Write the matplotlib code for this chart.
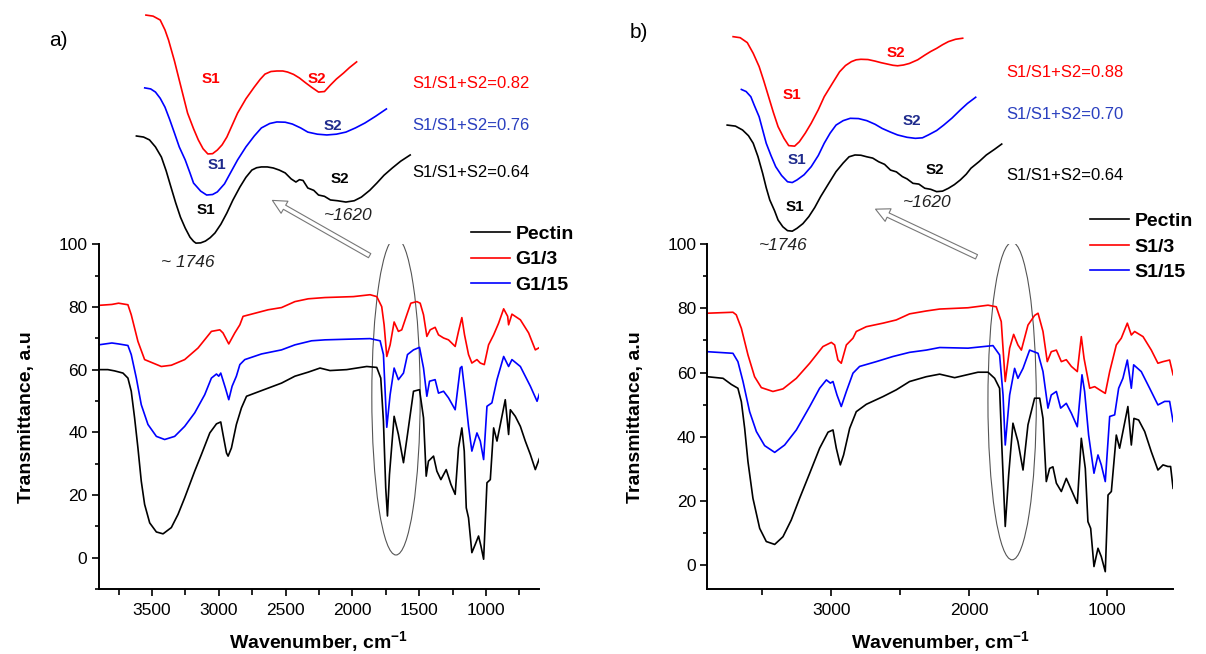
import matplotlib
matplotlib.use('Agg')
import matplotlib.pyplot as plt
from matplotlib.patches import Ellipse, FancyArrowPatch
from matplotlib.ticker import MultipleLocator

plt.rcParams['font.family'] = ['Liberation Sans', 'DejaVu Sans']
plt.rcParams['mathtext.fontset'] = 'custom'
plt.rcParams['mathtext.bf'] = 'Liberation Sans:bold'
plt.rcParams['mathtext.rm'] = 'Liberation Sans'

# ---- panel a) spectra ----
wn_a_pectin = [3900, 3830, 3780, 3717, 3680, 3655, 3630, 3605, 3580, 3555, 3517, 3467, 3417, 3355, 3305, 3255, 3180,
               3130, 3067, 3017, 2985, 2968, 2942, 2930, 2905, 2868, 2830, 2792, 2730, 2630, 2530, 2430, 2330, 2242,
               2167, 2042, 1892, 1817, 1787, 1767, 1750, 1737, 1722, 1687, 1655, 1617, 1587, 1542, 1497, 1467, 1447,
               1430, 1392, 1367, 1337, 1297, 1262, 1230, 1205, 1180, 1162, 1147, 1130, 1105, 1080, 1055, 1037, 1017,
               992, 967, 942, 917, 892, 855, 830, 817, 780, 742, 705, 667, 630, 600]
t_a_pectin = [60, 60, 59.6, 58.9, 57.3, 53.1, 44.6, 35, 24.4, 17, 11.1, 8.2, 7.6, 9.6, 13.8, 19.1, 27.6,
              32.9, 39.8, 42.7, 43.3, 39.3, 33.4, 32.4, 35, 42.5, 47.8, 51.5, 52.5, 54.1, 55.7, 57.9, 59.2, 60.5,
              59.7, 60, 61, 60.7, 57.3, 43.5, 22.3, 13.3, 26.5, 45.1, 39.3, 30.3, 39.3, 53.1, 53.6, 44.6, 26,
              30.8, 32.4, 27.6, 24.9, 28.1, 23.4, 20.2, 35, 41.4, 34, 15.9, 12.7, 1.6, 4.2, 6.9, 3.7, -0.5,
              23.9, 24.9, 41.4, 37.2, 42.5, 50.4, 39.3, 47.2, 45.1, 41.9, 37.2, 32.9, 28.1, 31.6]

wn_a_g13 = [3900, 3800, 3750, 3680, 3655, 3605, 3555, 3430, 3355, 3255, 3155, 3055, 2992, 2968, 2925, 2880, 2842,
            2818, 2755, 2630, 2530, 2430, 2330, 2205, 1992, 1867, 1817, 1780, 1762, 1742, 1717, 1687, 1655, 1630,
            1592, 1562, 1517, 1492, 1467, 1442, 1417, 1380, 1355, 1317, 1280, 1230, 1205, 1180, 1160, 1130, 1105,
            1067, 1042, 1012, 980, 942, 905, 867, 837, 830, 805, 742, 680, 630, 605]
t_a_g13 = [80.5, 80.8, 81.2, 80.7, 77.5, 69, 63.2, 61, 61.4, 63.2, 66.9, 72.2, 72.7, 71.7, 68.2, 71.7, 74.3,
           77, 77.7, 79.1, 79.8, 81.7, 82.6, 83, 83.3, 83.9, 83.3, 80.1, 74.3, 64.2, 67.9, 75.2, 72.2, 72.7,
           77.5, 81.2, 81.7, 81.2, 77.5, 70.6, 72.7, 73.5, 71.1, 70.1, 69.5, 67.4, 72.2, 76.6, 71.1, 64.8, 62.1,
           63.2, 62.1, 61.6, 67.9, 71.1, 74.8, 79.4, 77, 74.3, 77.7, 75.9, 71.7, 66.3, 66.9]

wn_a_g115 = [3900, 3800, 3750, 3680, 3655, 3617, 3580, 3530, 3467, 3405, 3330, 3255, 3180, 3105, 3055, 3017, 3000,
             2985, 2950, 2925, 2900, 2868, 2842, 2805, 2680, 2530, 2430, 2305, 2205, 2042, 1867, 1792, 1767, 1742,
             1717, 1687, 1655, 1617, 1587, 1542, 1497, 1467, 1442, 1422, 1380, 1355, 1317, 1280, 1230, 1192, 1180,
             1155, 1130, 1105, 1067, 1042, 1017, 992, 955, 917, 867, 830, 805, 742, 667, 617, 600]
t_a_g115 = [67.9, 68.5, 68.2, 67.7, 64.8, 57.3, 48.8, 42.5, 38.7, 37.7, 38.7, 41.9, 46.2, 52, 57.3, 58.6, 57.9,
            58.9, 54.1, 50.4, 54.7, 57.9, 61.6, 63.2, 65, 66.3, 67.9, 69.2, 69.5, 69.7, 69.9, 69.2, 64.8, 41.6,
            52, 60.5, 56.8, 58.9, 64.8, 66.3, 67.1, 60.5, 51.5, 56.3, 56.8, 52.5, 53.1, 51, 47.2, 60.5, 61,
            52, 41.9, 34, 39.8, 37.2, 31.3, 48.3, 49.4, 56.8, 64.2, 61, 63.2, 61, 54.7, 49.9, 52.2]

# ---- panel b) spectra ----
wn_b_pectin = [3900, 3786, 3726, 3678, 3653, 3629, 3605, 3569, 3520, 3472, 3411, 3351, 3291, 3230, 3157, 3085, 3024,
               2988, 2964, 2935, 2911, 2867, 2819, 2746, 2625, 2529, 2432, 2311, 2214, 2105, 1936, 1863, 1815, 1779,
               1762, 1738, 1713, 1682, 1646, 1609, 1573, 1525, 1488, 1464, 1440, 1416, 1392, 1367, 1331, 1295, 1258,
               1215, 1186, 1157, 1138, 1118, 1094, 1065, 1041, 1012, 992, 968, 932, 908, 884, 848, 823, 804, 770,
               726, 678, 630, 593, 557, 538, 520]
t_b_pectin = [58.7, 58.2, 56.3, 55.1, 50.9, 42.6, 32.2, 20.8, 11.4, 7.3, 6.4, 8.8, 14, 20.8, 28.6, 36.4, 41.4,
              42.1, 36.4, 31.2, 34.3, 42.6, 47.8, 50.1, 52.5, 54.6, 57.2, 58.7, 59.5, 58.4, 60.1, 60.1, 58.2, 55.1,
              36.4, 12, 28.1, 44.2, 38.5, 29.6, 43.7, 52, 52, 45.7, 26, 30.1, 30.6, 25.5, 22.9, 27, 23.4,
              19.2, 39.5, 30.1, 13.5, 11.4, -0.5, 5.2, 2.6, -2.1, 21.8, 22.9, 40.5, 36.4, 41.6, 49.4, 37.4, 45.7, 45.2,
              41.6, 35.3, 29.6, 31.2, 30.7, 30.7, 23.9]

wn_b_s13 = [3900, 3714, 3690, 3653, 3605, 3557, 3508, 3424, 3351, 3254, 3157, 3061, 3000, 2976, 2952, 2928, 2891,
            2843, 2819, 2746, 2625, 2529, 2432, 2311, 2214, 2008, 1863, 1803, 1767, 1738, 1706, 1677, 1646, 1621,
            1573, 1525, 1500, 1464, 1433, 1404, 1367, 1331, 1295, 1258, 1215, 1186, 1166, 1125, 1089, 1053, 1012,
            980, 932, 896, 852, 823, 799, 738, 678, 630, 593, 545, 520]
t_b_s13 = [78.5, 78.8, 78, 73.8, 65.5, 58.7, 55.3, 54.1, 54.9, 58.2, 62.9, 68.1, 69.4, 68.6, 63.9, 62.9, 68.6,
           70.7, 72.8, 74.3, 75.4, 76.4, 78.3, 79.2, 79.8, 80.2, 81, 80.5, 75.9, 57.2, 67.6, 71.9, 68.6, 67,
           74.8, 77.8, 78.5, 72.8, 63.4, 66.5, 67, 63.4, 64, 61.9, 60.3, 71.2, 64.4, 55.1, 55.6, 54.6, 53.5,
           60.3, 68.6, 70.7, 75.4, 71.7, 72.8, 71.2, 67, 62.9, 63.4, 63.9, 59.3]

wn_b_s115 = [3900, 3714, 3678, 3641, 3593, 3544, 3484, 3411, 3339, 3254, 3157, 3085, 3036, 3007, 2988, 2959, 2928,
             2891, 2843, 2795, 2674, 2553, 2432, 2311, 2214, 2008, 1827, 1779, 1754, 1738, 1706, 1670, 1646, 1609,
             1561, 1500, 1464, 1428, 1404, 1367, 1336, 1295, 1258, 1215, 1181, 1162, 1133, 1094, 1065, 1041, 1012,
             980, 944, 915, 884, 852, 823, 806, 751, 690, 630, 581, 545, 520]
t_b_s115 = [66.5, 66, 63.4, 57.2, 47.8, 41.6, 37.2, 35.1, 37.4, 42.1, 49.4, 55.1, 57.7, 56.7, 57.2, 53, 49.4,
            54.1, 59.8, 61.9, 63.4, 65, 66.3, 67, 67.8, 67.6, 68.4, 65.5, 53, 37.4, 53, 61.3, 58.2, 61.3,
            67, 66, 60.3, 48.9, 53, 54.1, 48.9, 50.4, 47.3, 43.1, 59.3, 54.1, 40.5, 28.6, 34.3, 31.2, 26,
            46.3, 46.8, 55.1, 58.2, 63.9, 55.1, 62.4, 60.3, 55.1, 49.9, 51, 51, 44.7]

# ---- insets (C=O region, curves offset for clarity) ----
ia_red_wn = [1788, 1782, 1776, 1772, 1769, 1764, 1760, 1753, 1748, 1744, 1740, 1736, 1732, 1728, 1724, 1720, 1711,
             1704, 1697, 1692, 1688, 1683, 1678, 1673, 1669, 1664, 1659, 1654, 1649, 1643, 1638, 1633, 1628, 1622,
             1617, 1611]
ia_red_t = [94.2, 93.8, 92.3, 88.5, 84.6, 76.5, 69.2, 56.5, 50.5, 46.2, 42.8, 40.8, 40.9, 42.3, 44.3, 47.3, 56.5,
            62, 66.5, 69.5, 71.5, 72.5, 72.7, 72.7, 72.3, 71.4, 70, 68.2, 66.5, 64.6, 64.8, 67.3, 69.6, 71.9,
            74, 76.2]
ia_blue_wn = [1789, 1784, 1780, 1776, 1772, 1768, 1764, 1760, 1755, 1751, 1748, 1742, 1737, 1732, 1728, 1722, 1717,
              1711, 1704, 1697, 1691, 1684, 1678, 1671, 1665, 1658, 1652, 1644, 1636, 1628, 1620, 1612, 1604, 1595,
              1586]
ia_blue_t = [66.2, 65.8, 64.6, 62.2, 58.8, 54, 48.8, 43.5, 38.5, 33.5, 29.6, 26.5, 25, 25.2, 26.2, 29.3, 33.5,
             38.5, 43.5, 47.7, 50.8, 52.5, 53.1, 53, 52.3, 50.8, 49.2, 48.4, 48.1, 48.4, 49.2, 50.8, 52.7, 55.3,
             58.1]
ia_black_wn = [1796, 1790, 1785, 1780, 1775, 1771, 1767, 1763, 1759, 1755, 1751, 1748, 1746, 1742, 1738, 1734, 1730,
               1725, 1720, 1715, 1709, 1704, 1699, 1695, 1691, 1686, 1681, 1676, 1671, 1666, 1662, 1659, 1656, 1652,
               1647, 1643, 1638, 1633, 1627, 1620, 1613, 1607, 1600, 1594, 1588, 1581, 1574, 1566]
ia_black_t = [47.7, 47.3, 46.2, 43.5, 39.6, 34.3, 28.1, 22, 16.5, 12.3, 8.8, 7.2, 6.5, 6.6, 7.3, 8.6, 10.4,
              13.8, 18.1, 23, 28.1, 31.8, 34.6, 35.5, 35.8, 35.8, 35.4, 34.6, 33.5, 31.2, 30, 30.9, 30.6, 27.7,
              26.8, 25, 24.5, 23.1, 22.8, 22.3, 22.8, 24.2, 26.8, 29.6, 32.6, 35.4, 38, 40.4]

ib_red_wn = [1792, 1786, 1780, 1775, 1770, 1766, 1762, 1758, 1754, 1749, 1745, 1740, 1736, 1731, 1726, 1720, 1715,
             1708, 1702, 1697, 1692, 1688, 1684, 1678, 1672, 1667, 1662, 1657, 1653, 1648, 1643, 1636, 1630, 1625,
             1620, 1615, 1610, 1604, 1598]
ib_red_t = [85.9, 85.5, 83.6, 79.5, 74.4, 68.8, 62.8, 56.8, 51.3, 46.8, 44, 43.8, 45.5, 48.8, 52.6, 57.8, 62.8,
            68, 72.4, 74.8, 76.3, 77, 77.2, 77.1, 76.5, 75.9, 75.4, 74.9, 74.7, 75, 75.6, 77, 78.8, 80.2,
            81.4, 82.8, 84, 84.9, 85.3]
ib_blue_wn = [1785, 1781, 1777, 1774, 1770, 1767, 1764, 1760, 1756, 1751, 1746, 1742, 1738, 1732, 1726, 1720, 1715,
              1710, 1705, 1699, 1693, 1686, 1679, 1672, 1666, 1659, 1653, 1645, 1638, 1632, 1627, 1620, 1614, 1607,
              1600, 1594, 1587]
ib_blue_t = [65.6, 64.8, 62.8, 59.4, 55.1, 50, 44.9, 40.2, 35.9, 32.5, 30.1, 29.8, 30.8, 32.8, 35.9, 40.2, 44.9,
             48.8, 51.9, 53.6, 54.5, 54.4, 53.6, 52.2, 50.6, 49.2, 48.1, 47.2, 46.8, 47, 48.1, 49.8, 51.9, 54.6,
             57.7, 60.2, 62.6]
ib_black_wn = [1797, 1790, 1784, 1779, 1775, 1771, 1767, 1764, 1761, 1757, 1754, 1750, 1746, 1742, 1738, 1733, 1728,
               1723, 1718, 1711, 1705, 1699, 1694, 1689, 1684, 1679, 1674, 1669, 1664, 1659, 1654, 1649, 1645, 1640,
               1635, 1630, 1625, 1620, 1615, 1610, 1605, 1600, 1595, 1591, 1584, 1578, 1571, 1565]
ib_black_t = [51.9, 51.5, 50, 47.8, 44.9, 39.8, 33.3, 27.8, 23.1, 19, 15.4, 12.8, 11.3, 11.1, 12.2, 14, 16.7,
              20.2, 24.4, 29.6, 34, 37.3, 39.7, 40.4, 40.3, 39.7, 39.2, 37.8, 36.8, 34.6, 33.9, 32.1, 31.2, 29.5,
              29.2, 27.6, 27.2, 26.3, 26.5, 27.6, 29, 30.8, 33, 35.3, 37.9, 40.4, 42.6, 44.6]

ratios_a = ['S1/S1+S2=0.82', 'S1/S1+S2=0.76', 'S1/S1+S2=0.64']
ratios_b = ['S1/S1+S2=0.88', 'S1/S1+S2=0.70', 'S1/S1+S2=0.64']
labels_a = ['Pectin', 'G1/3', 'G1/15']
labels_b = ['Pectin', 'S1/3', 'S1/15']

RED = '#ff0000'
BLUE = '#0000ff'
NAVY = '#1e2a8c'

fig = plt.figure(figsize=(12.06, 6.54), dpi=100)

ax_a = fig.add_axes([0.0817, 0.0994, 0.3655, 0.5271])
ax_b = fig.add_axes([0.5865, 0.0994, 0.3862, 0.5271])


def style_axes(ax, xlim, ylim, xmajor, xminor):
    ax.set_xlim(*xlim)
    ax.set_ylim(*ylim)
    ax.spines['top'].set_visible(False)
    ax.spines['right'].set_visible(False)
    for s in ['left', 'bottom']:
        ax.spines[s].set_linewidth(1.4)
    ax.xaxis.set_major_locator(MultipleLocator(xmajor))
    ax.xaxis.set_minor_locator(MultipleLocator(xminor))
    ax.yaxis.set_major_locator(MultipleLocator(20))
    ax.yaxis.set_minor_locator(MultipleLocator(10))
    ax.tick_params(which='major', direction='out', length=5, width=1.2, labelsize=12.5, pad=3)
    ax.tick_params(axis='x', which='major', pad=5)
    ax.tick_params(which='minor', direction='out', length=4, width=1.2)
    ax.tick_params(axis='y', which='minor', length=3)
    ax.set_xlabel(r'Wavenumber, cm$^{\mathbf{-1}}$', fontsize=14, fontweight='bold', labelpad=8)
    ax.set_ylabel('Transmittance, a.u', fontsize=14, fontweight='bold', labelpad=17)
    ax.patch.set_alpha(0)


lw = 1.2
ax_a.plot(wn_a_pectin, t_a_pectin, color='black', lw=lw, label=labels_a[0])
ax_a.plot(wn_a_g13, t_a_g13, color=RED, lw=lw, label=labels_a[1])
ax_a.plot(wn_a_g115, t_a_g115, color=BLUE, lw=lw, label=labels_a[2])
style_axes(ax_a, (3900, 600), (-10, 100), 500, 250)
ax_a.add_patch(Ellipse((1673, 51.5), 362, 101.3, fill=False, ec='#555555', lw=0.8))

ax_b.plot(wn_b_pectin, t_b_pectin, color='black', lw=lw, label=labels_b[0])
ax_b.plot(wn_b_s13, t_b_s13, color=RED, lw=lw, label=labels_b[1])
ax_b.plot(wn_b_s115, t_b_s115, color=BLUE, lw=lw, label=labels_b[2])
style_axes(ax_b, (3900, 520), (-7.5, 100), 1000, 500)
ax_b.add_patch(Ellipse((1688, 51.1), 351, 99, fill=False, ec='#555555', lw=0.8))

for ax, anchor in [(ax_a, (0.3903, 0.6553)), (ax_b, (0.9038, 0.6748))]:
    fig.legend(*ax.get_legend_handles_labels(), loc='upper left', bbox_to_anchor=anchor,
               frameon=False, borderpad=0, borderaxespad=0, handlelength=2.0, handletextpad=0.3,
               labelspacing=0.4, prop={'weight': 'bold', 'size': 14})

# insets
ins_a = fig.add_axes([0.0829, 0.6024, 0.2736, 0.3976])
ins_a.set_xlim(1826.6, 1549.4)
ins_b = fig.add_axes([0.5804, 0.6024, 0.2819, 0.3976])
ins_b.set_xlim(1820, 1532.7)
for ins in (ins_a, ins_b):
    ins.set_ylim(0, 100)
    ins.axis('off')
    ins.patch.set_alpha(0)

ins_a.plot(ia_red_wn, ia_red_t, color=RED, lw=1.2)
ins_a.plot(ia_blue_wn, ia_blue_t, color=BLUE, lw=1.2)
ins_a.plot(ia_black_wn, ia_black_t, color='black', lw=1.2)
ins_b.plot(ib_red_wn, ib_red_t, color=RED, lw=1.2)
ins_b.plot(ib_blue_wn, ib_blue_t, color=BLUE, lw=1.2)
ins_b.plot(ib_black_wn, ib_black_t, color='black', lw=1.2)

sk = dict(fontsize=11, fontweight='bold', ha='center', va='center')
ins_a.text(1733, 69.6, 'S1', color=RED, **sk)
ins_a.text(1644, 69.6, 'S2', color=RED, **sk)
ins_a.text(1728, 36.5, 'S1', color=NAVY, **sk)
ins_a.text(1631, 51.5, 'S2', color=NAVY, **sk)
ins_a.text(1738, 19.2, 'S1', color='black', **sk)
ins_a.text(1625, 31.2, 'S2', color='black', **sk)
ins_a.text(1618, 17.3, '~1620', fontsize=12.5, style='italic', ha='center', va='center', color='#222222')
ins_a.text(1753, -0.8, '~ 1746', fontsize=12.5, style='italic', ha='center', va='center', color='#222222')

ins_b.text(1654.3, 79.7, 'S2', color=RED, **sk)
ins_b.text(1742.6, 63.5, 'S1', color=RED, **sk)
ins_b.text(1641.3, 53.6, 'S2', color=NAVY, **sk)
ins_b.text(1737.7, 38.5, 'S1', color=NAVY, **sk)
ins_b.text(1739.4, 20.3, 'S1', color='black', **sk)
ins_b.text(1621.6, 34.6, 'S2', color='black', **sk)
ins_b.text(1628.2, 22.1, '~1620', fontsize=12.5, style='italic', ha='center', va='center', color='#222222')
ins_b.text(1749.2, 5.4, '~1746', fontsize=12.5, style='italic', ha='center', va='center', color='#222222')

rc = [RED, '#2a3fbf', 'black']
for txt, c, y in zip(ratios_a, rc, [67.7, 51.9, 33.8]):
    ins_a.text(1564, y, txt, color=c, fontsize=12, ha='left', va='center', clip_on=False)
for txt, c, y in zip(ratios_b, rc, [72.1, 56, 32.7]):
    ins_b.text(1561.2, y, txt, color=c, fontsize=12, ha='left', va='center', clip_on=False)

# hollow arrows from the ellipses to the insets
for tail, tip in [((0.3085, 0.607), (0.2239, 0.6957)), ((0.8118, 0.6055), (0.7239, 0.682))]:
    fig.add_artist(FancyArrowPatch(tail, tip, transform=fig.transFigure,
                                   arrowstyle='simple,head_length=10,head_width=10,tail_width=3.4',
                                   mutation_scale=1, fc='white', ec='#777777', lw=0.8))

fig.text(58 / 1206, 1 - 40 / 654, 'a)', fontsize=15, ha='center', va='center')
fig.text(638.7 / 1206, 1 - 33 / 654, 'b)', fontsize=15, ha='center', va='center')

fig.savefig('out.png', dpi=100)
